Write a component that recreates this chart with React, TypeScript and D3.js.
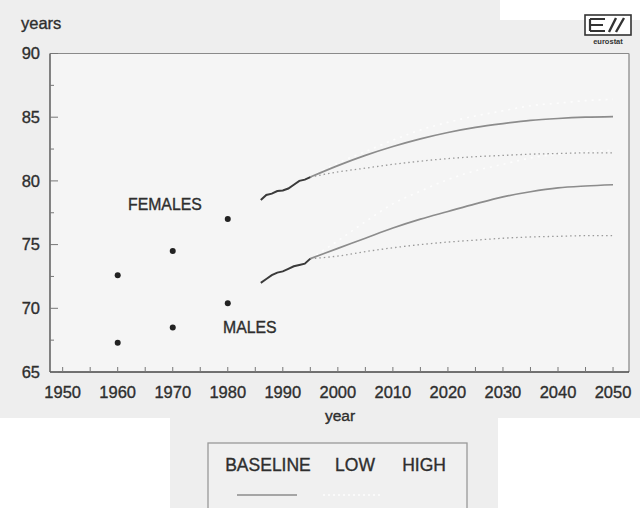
import React from "react";
import * as d3 from "d3";

const histYears = [1960, 1970, 1980];
const histFemales = [72.6, 74.5, 77.0];
const histMales = [67.3, 68.5, 70.4];

const obsYears = [1986, 1987, 1988, 1989, 1990, 1991, 1992, 1993, 1994, 1995];
const obsFemales = [78.5, 78.9, 79.0, 79.2, 79.25, 79.4, 79.7, 80.0, 80.1, 80.3];
const obsMales = [72.0, 72.3, 72.6, 72.8, 72.9, 73.1, 73.3, 73.4, 73.5, 73.9];

const projYears = [1995, 2000, 2005, 2010, 2015, 2020, 2025, 2030, 2035, 2040, 2045, 2050];
const femBaseline = [80.3, 81.2, 82.0, 82.7, 83.3, 83.8, 84.2, 84.5, 84.75, 84.9, 85.0, 85.05];
const femLow = [80.3, 80.7, 81.0, 81.3, 81.55, 81.75, 81.9, 82.0, 82.1, 82.15, 82.2, 82.2];
const femHigh = [80.3, 81.4, 82.3, 83.2, 84.0, 84.6, 85.1, 85.5, 85.9, 86.1, 86.3, 86.4];
const maleBaseline = [73.9, 74.7, 75.5, 76.3, 77.0, 77.6, 78.2, 78.75, 79.15, 79.45, 79.6, 79.7];
const maleLow = [73.9, 74.1, 74.45, 74.75, 75.0, 75.2, 75.35, 75.5, 75.6, 75.65, 75.7, 75.7];
const maleHigh = [73.9, 75.3, 76.8, 78.2, 79.2, 80.1, 80.8, 81.3, 81.8, 82.1, 82.3, 82.4];

const yTicks = [65, 70, 75, 80, 85, 90];
const xTicks = [1950, 1960, 1970, 1980, 1990, 2000, 2010, 2020, 2030, 2040, 2050];
const legendLabels = ["BASELINE", "LOW", "HIGH"];

export default function App() {
  const W = 640, H = 508;
  const x = d3.scaleLinear().domain([1947.7, 2052.9]).range([50, 629]);
  const y = d3.scaleLinear().domain([65, 90]).range([372, 53.5]);
  const line = d3
    .line<[number, number]>()
    .x((d) => x(d[0]))
    .y((d) => y(d[1]))
    .curve(d3.curveMonotoneX);
  const straight = d3
    .line<[number, number]>()
    .x((d) => x(d[0]))
    .y((d) => y(d[1]));
  const zip = (xs: number[], ys: number[]) => xs.map((v, i) => [v, ys[i]] as [number, number]);
  const font = "'Liberation Sans', Arial, Helvetica, sans-serif";
  const txt = "#2e2e2e";
  const ts = { stroke: txt, strokeWidth: 0.35 };
  const minorX = d3.range(1950, 2051, 5);
  const minorY = d3.range(65, 90.1, 2.5);

  return (
    <svg width={W} height={H} style={{ position: "absolute", left: 0, top: 0 }} fontFamily={font}>
      <rect x={0} y={0} width={W} height={H} fill="#ffffff" />
      <rect x={0} y={0} width={W} height={418} fill="#eeeeee" />
      <rect x={500} y={0} width={140} height={20} fill="#ffffff" />
      <rect x={170} y={418} width={328} height={90} fill="#eeeeee" />
      <rect x={x.range()[0]} y={y(90)} width={x.range()[1] - x.range()[0]} height={y(65) - y(90)} fill="#f5f5f5" />

      {/* frame */}
      <line x1={50} x2={629} y1={y(90)} y2={y(90)} stroke="#8a8a8a" strokeWidth={1.2} />
      <line x1={629} x2={629} y1={y(90)} y2={y(65)} stroke="#999" strokeWidth={1.5} />
      <line x1={50} x2={50} y1={y(90)} y2={y(65)} stroke="#444" strokeWidth={1.3} />
      <line x1={50} x2={629} y1={y(65)} y2={y(65)} stroke="#444" strokeWidth={1.3} />

      {/* y ticks */}
      {minorY.map((t) => (
        <line key={"ym" + t} x1={50} x2={t % 5 === 0 ? 58 : 54} y1={y(t)} y2={y(t)} stroke="#777" strokeWidth={1} />
      ))}
      {yTicks.map((t) => (
        <text key={"yl" + t} x={40} y={y(t)} dy="0.35em" textAnchor="end" fontSize={16.5} fill={txt} {...ts}>
          {t}
        </text>
      ))}
      <text x={21} y={23} dy="0.35em" fontSize={16.5} fill={txt} {...ts}>years</text>

      {/* x ticks */}
      {minorX.map((t) => (
        <line key={"xm" + t} x1={x(t)} x2={x(t)} y1={y(65)} y2={y(65) - 5} stroke="#777" strokeWidth={1} />
      ))}
      {xTicks.map((t) => (
        <text key={"xl" + t} x={x(t)} y={392} dy="0.35em" textAnchor="middle" fontSize={16.5} fill={txt} {...ts}>
          {t}
        </text>
      ))}
      <text x={340} y={416} dy="0.35em" textAnchor="middle" fontSize={15.5} fill={txt} {...ts}>year</text>

      {/* high (nearly invisible) */}
      <path d={line(zip(projYears, femHigh)) || ""} fill="none" stroke="#fdfdfd" strokeWidth={1.6} strokeDasharray="2,5" />
      <path d={line(zip(projYears, maleHigh)) || ""} fill="none" stroke="#fdfdfd" strokeWidth={1.6} strokeDasharray="2,5" />

      {/* low */}
      <path d={line(zip(projYears, femLow)) || ""} fill="none" stroke="#9a9a9a" strokeWidth={1.3} strokeDasharray="1.5,3" />
      <path d={line(zip(projYears, maleLow)) || ""} fill="none" stroke="#9a9a9a" strokeWidth={1.3} strokeDasharray="1.5,3" />

      {/* baseline */}
      <path d={line(zip(projYears, femBaseline)) || ""} fill="none" stroke="#8c8c8c" strokeWidth={1.7} />
      <path d={line(zip(projYears, maleBaseline)) || ""} fill="none" stroke="#8c8c8c" strokeWidth={1.7} />

      {/* observed */}
      <path d={straight(zip(obsYears, obsFemales)) || ""} fill="none" stroke="#3a3a3a" strokeWidth={2} />
      <path d={straight(zip(obsYears, obsMales)) || ""} fill="none" stroke="#3a3a3a" strokeWidth={2} />

      {/* historical dots */}
      {histYears.map((yr, i) => (
        <g key={"h" + yr}>
          <circle cx={x(yr)} cy={y(histFemales[i])} r={3} fill="#222" />
          <circle cx={x(yr)} cy={y(histMales[i])} r={3} fill="#222" />
        </g>
      ))}

      <text x={128} y={204} dy="0.35em" fontSize={15.8} fill={txt} {...ts}>FEMALES</text>
      <text x={223} y={327} dy="0.35em" fontSize={15.8} fill={txt} {...ts}>MALES</text>

      {/* logo */}
      <g>
        <rect x={585} y={15} width={46} height={20} fill="#ffffff" stroke="#333" strokeWidth={1.6} />
        <path d="M590,19 H605 M590,25 H603 M590,31 H605 M590,19 V31" stroke="#333" strokeWidth={2.2} fill="none" />
        <path d="M609,32 L616,18 M616,32 L624,18" stroke="#333" strokeWidth={2.4} fill="none" />
        <text x={608} y={41} dy="0.35em" textAnchor="middle" fontSize={7.5} fontWeight="bold" fill="#333">eurostat</text>
      </g>

      {/* legend */}
      <rect x={208} y={443} width={259} height={80} fill="#f0f0f0" stroke="#999" strokeWidth={1.3} />
      {legendLabels.map((l, i) => (
        <text key={l} x={[268, 355, 424][i]} y={465} dy="0.35em" textAnchor="middle" fontSize={17.5} fill={txt} {...ts}>
          {l}
        </text>
      ))}
      <line x1={237} x2={297} y1={495} y2={495} stroke="#8c8c8c" strokeWidth={1.7} />
      <line x1={323} x2={383} y1={495} y2={495} stroke="#fdfdfd" strokeWidth={1.6} strokeDasharray="2,3" />
    </svg>
  );
}
